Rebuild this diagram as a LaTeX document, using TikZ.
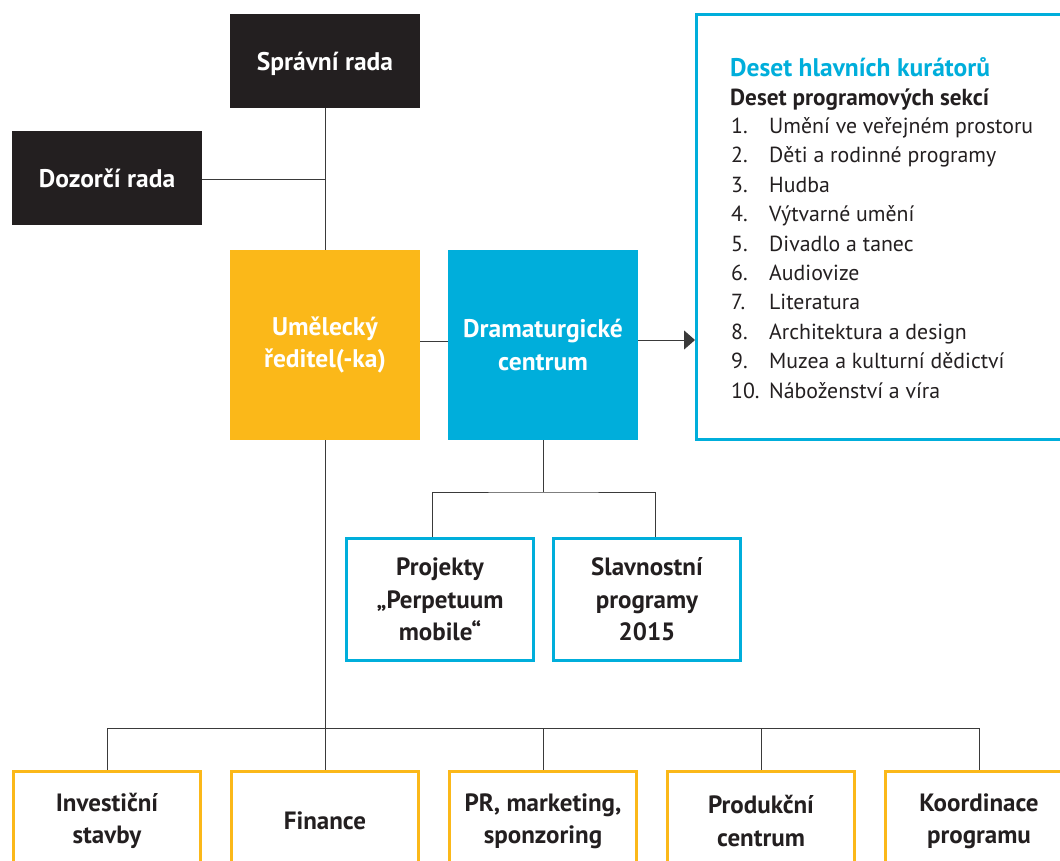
\documentclass[tikz,border=0pt]{standalone}
\usepackage{fontspec}
\setmainfont{PT Sans}
\usetikzlibrary{arrows.meta,calc}
\definecolor{yel}{HTML}{FBB819}
\definecolor{cyn}{HTML}{00AEDB}
\definecolor{blk}{HTML}{231F20}
\definecolor{lnc}{HTML}{3A3A3A}
\tikzset{
  darkbox/.style={rectangle, fill=blk, text=white, minimum width=190, minimum height=94, inner sep=0, text height=18, text depth=0, font=\fontsize{25.5}{32}\selectfont\bfseries, align=center},
  fillbox/.style={rectangle, fill=#1, text=white, minimum width=190, minimum height=190, inner sep=0, font=\fontsize{25.5}{32.5}\selectfont\bfseries, align=center},
  framebox/.style={rectangle, draw=#1, line width=3, fill=white, text=blk, minimum width=187, inner sep=0, font=\fontsize{25}{32.5}\selectfont\bfseries, align=center},
  conn/.style={draw=lnc, line width=1},
  itemtxt/.style={anchor=base west, inner sep=0, text=blk, font=\fontsize{21.8}{24}\selectfont},
}
\begin{document}
\begin{tikzpicture}[x=1pt,y=-1pt]
\useasboundingbox (0,0) rectangle (1060,860);
\clip (0,0) rectangle (1060,860);

% top boxes
\node[darkbox] (sr) at (325,61) {Správní rada};
\node[darkbox] (dr) at (107,178) {Dozorčí rada};
\node[fillbox=yel] (ur) at (325,345) {Umělecký\\ředitel(-ka)};
\node[fillbox=cyn] (dc) at (543,345) {Dramaturgické\\centrum};

% curators box
\node[rectangle, draw=cyn, line width=3, minimum width=383, minimum height=425, inner sep=0] (kb) at (888,227) {};
\node[anchor=base west, inner sep=0, text=cyn, font=\fontsize{25.5}{26}\selectfont\bfseries] (kt) at (730,76) {Deset hlavních kurátorů};
\node[anchor=base west, inner sep=0, text=blk, font=\fontsize{23.2}{24}\selectfont\bfseries] (ks) at (730,105) {Deset programových sekcí};
\foreach \i/\t in {1/Umění ve veřejném prostoru, 2/Děti a rodinné programy, 3/Hudba, 4/Výtvarné umění, 5/Divadlo a tanec, 6/Audiovize, 7/Literatura, 8/Architektura a design, 9/Muzea a kulturní dědictví, 10/Náboženství a víra}{
  \node[itemtxt] (n\i) at (731,{133.5+29.4*(\i-1)}) {\i.};
  \node[itemtxt] (t\i) at (769,{133.5+29.4*(\i-1)}) {\t};
}

% project boxes
\node[framebox=cyn, minimum height=122] (pp) at (440,599.5) {Projekty\\„Perpetuum\\mobile“};
\node[framebox=cyn, minimum height=122] (sp) at (647,599.5) {Slavnostní\\programy\\2015};

% bottom boxes
\node[framebox=yel, minimum height=100] (b1) at (107,821) {Investiční\\stavby};
\node[framebox=yel, minimum height=100] (b2) at (325,821) {Finance};
\node[framebox=yel, minimum height=100] (b3) at (543,821) {PR, marketing,\\sponzoring};
\node[framebox=yel, minimum height=100] (b4) at (761,821) {Produkční\\centrum};
\node[framebox=yel, minimum height=100] (b5) at (979,821) {Koordinace\\programu};

% connectors
\coordinate (jd) at (325,179);
\draw[conn] (sr.south) -- (ur.north);
\draw[conn] (dr.east |- jd) -- (jd);
\draw[conn] ([yshift=4]ur.east) -- ([yshift=4]dc.west);
\draw[conn, -{Triangle[length=11,width=19]}] ([yshift=5]dc.east) -- ([yshift=5]dc.east -| kb.west);

\coordinate (jp) at (543,492);
\draw[conn] (dc.south) -- (jp);
\draw[conn] ([xshift=-8]pp.north) |- (jp) -| ([xshift=8]sp.north);

\coordinate (bus) at (325,728);
\draw[conn] (ur.south) -- (b2.north);
\draw[conn] (b1.north) |- (bus) -| (b5.north);
\draw[conn] (b3.north) -- (b3.north |- bus);
\draw[conn] (b4.north) -- (b4.north |- bus);
\end{tikzpicture}
\end{document}
